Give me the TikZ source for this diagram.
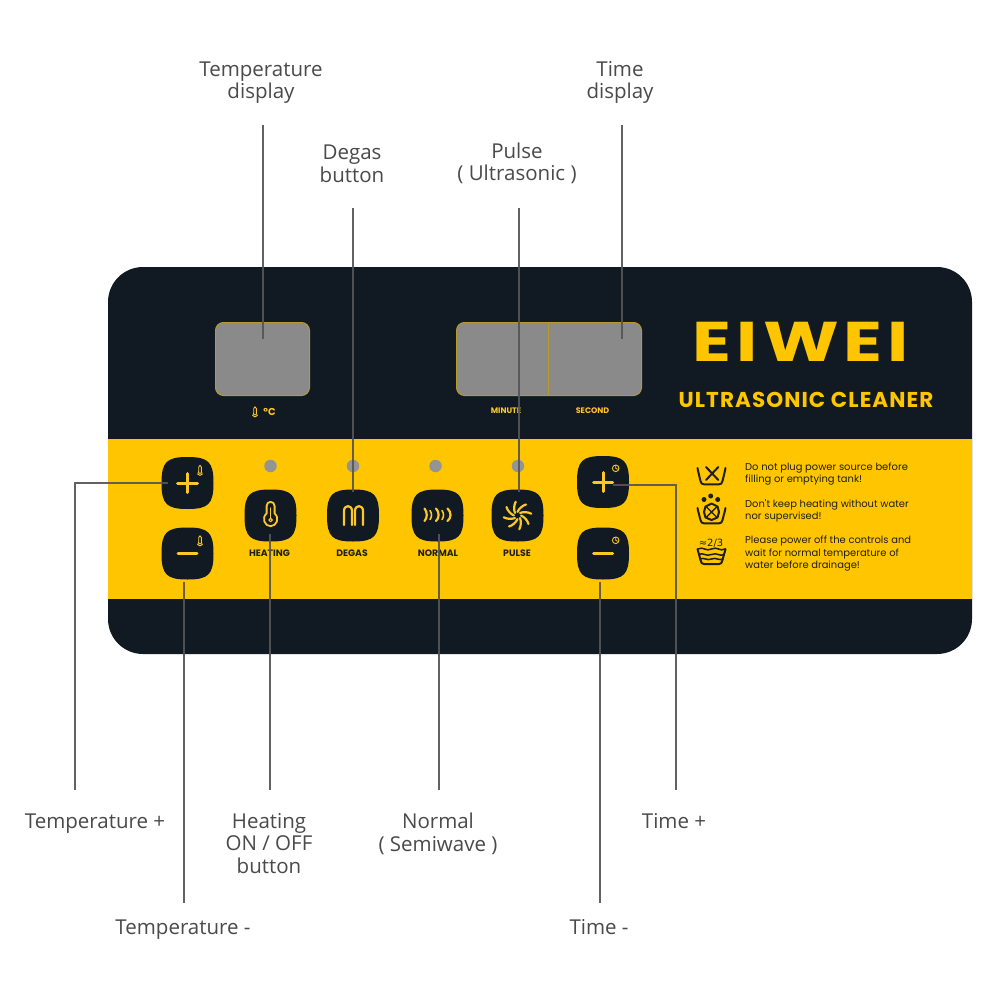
\documentclass[tikz,border=0pt]{standalone}
\usepackage{fontspec}
\setmainfont{Open Sans}
\newfontfamily\pop{Poppins}
\newfontfamily\dejav{DejaVu Sans}
\definecolor{panelDark}{HTML}{111A22}
\definecolor{panelYellow}{HTML}{FFC600}
\definecolor{iconYellow}{HTML}{FDC827}
\definecolor{screenGray}{HTML}{8A8A8A}
\definecolor{screenEdge}{HTML}{B59A2E}
\definecolor{dotGray}{HTML}{949494}
\definecolor{leadGray}{HTML}{555555}
\definecolor{labelGray}{HTML}{4A4A4A}
\definecolor{inkDark}{HTML}{1E1E1A}
\tikzset{
  x=1pt,y=-1pt,
  lead/.style={draw=leadGray,line width=2pt,opacity=.92},
  calloutlabel/.style={text=labelGray,align=center,inner sep=0pt,font=\fontsize{20.5}{22.6}\selectfont},
  screen/.style={fill=screenGray,draw=screenEdge,line width=1pt,rounded corners=8pt},
  dotlamp/.style={circle,fill=dotGray,minimum size=12.5pt,inner sep=0pt},
  btnhit/.style={minimum size=52pt,inner sep=0pt},
  icon/.style={draw=iconYellow,line width=1.9pt,line cap=round,line join=round},
  thinicon/.style={draw=iconYellow,line width=.9pt,line cap=round},
  tub/.style={draw=inkDark,line width=2pt,line cap=round,line join=round},
  btnlabel/.style={text=inkDark,inner sep=0pt,font=\pop\bfseries\fontsize{9.3}{10}\selectfont},
  warn/.style={text=inkDark,inner sep=0pt,anchor=west,align=left,font=\pop\fontsize{9.95}{12.4}\selectfont},
  panelcap/.style={text=iconYellow,inner sep=0pt,font=\pop\bfseries\fontsize{8}{9}\selectfont}
}
\newcommand\squirclebtn[3]{%
  \fill[panelDark,shift={(#2,#3)}] (-26,0) .. controls (-26,-21) and (-21,-26) .. (0,-26)
    .. controls (21,-26) and (26,-21) .. (26,0)
    .. controls (26,21) and (21,26) .. (0,26)
    .. controls (-21,26) and (-26,21) .. (-26,0) -- cycle;
  \node[btnhit] (#1) at (#2,#3) {};}
\newcommand\minitherm[2]{%
  \draw[thinicon,shift={(#1,#2)}] (-1.3,1.5) -- (-1.3,-3) .. controls (-1.3,-5.2) and (1.3,-5.2) .. (1.3,-3) -- (1.3,1.5)
    .. controls (3.6,3.2) and (1.9,5.4) .. (0,5.4) .. controls (-1.9,5.4) and (-3.6,3.2) .. (-1.3,1.5) -- cycle;
  \fill[iconYellow,shift={(#1,#2)}] (0,3.2) circle (1);}
\newcommand\miniclock[2]{%
  \draw[thinicon,shift={(#1,#2)}] (0,0) circle (3.3) (0,-2) -- (0,0) -- (1.6,.8);}
\begin{document}
\begin{tikzpicture}
\useasboundingbox (0,0) rectangle (1000,1000);
\fill[white] (0,0) rectangle (1000,1000);
% panel
\fill[panelDark,rounded corners=35pt] (108,267) rectangle (972,654);
\fill[panelYellow] (108,439) rectangle (972,599);
% displays
\node[screen,minimum width=94pt,minimum height=73pt,inner sep=0pt] (tempscreen) at (262.5,359) {};
\node[screen,minimum width=185pt,minimum height=73pt,inner sep=0pt] (timescreen) at (549,359) {};
\draw[screenEdge,line width=.9pt] (548,322.5) -- (548,395.5);
% captions under displays
\minitherm{255}{411.5}
\node[panelcap,font=\pop\bfseries\fontsize{10}{11}\selectfont] (degc) at (269.5,412) {°C};
\node[panelcap] (minute) at (506,411) {MINUTE};
\node[panelcap] (second) at (592.5,411) {SECOND};
% brand
\node[inner sep=0pt,text=panelYellow,font=\pop\bfseries\fontsize{56}{60}\selectfont\addfontfeature{LetterSpace=7}] (brand) at (801,342) {\scalebox{1.285}[1]{EIWEI}};
\node[inner sep=0pt,text=panelYellow,font=\pop\bfseries\fontsize{21.5}{24}\selectfont\addfontfeature{LetterSpace=5}] (product) at (806,400) {ULTRASONIC CLEANER};
% lamps
\node[dotlamp] (lampa) at (270.5,466) {};
\node[dotlamp] (lampb) at (353,466) {};
\node[dotlamp] (lampc) at (435.5,466) {};
\node[dotlamp] (lampd) at (518,466) {};
% buttons
\squirclebtn{tplus}{187.5}{483}
\squirclebtn{tminus}{187.5}{553.5}
\squirclebtn{heat}{270.5}{515.5}
\squirclebtn{degas}{353}{515.5}
\squirclebtn{normal}{437.5}{515.5}
\squirclebtn{pulse}{517.5}{515.5}
\squirclebtn{tmplus}{603}{482}
\squirclebtn{tmminus}{603}{553.5}
% + and - glyphs
\draw[icon,line width=3pt] (177.5,483) -- (197.5,483) (187.5,473.5) -- (187.5,492.5);
\draw[icon,line width=3pt] (178,553.5) -- (197,553.5);
\draw[icon,line width=3pt] (593.5,482) -- (612.5,482) (603,472.5) -- (603,491.5);
\draw[icon,line width=3pt] (593.5,553.5) -- (612.5,553.5);
\minitherm{200}{470}
\minitherm{200}{540.5}
\miniclock{615.7}{468.3}
\miniclock{615.7}{540.3}
% heating icon
\draw[icon,line width=1.8pt] (266.6,513.5) -- (266.6,506) .. controls (266.6,500.5) and (274.6,500.5) .. (274.6,506) -- (274.6,513.5)
  .. controls (280,518) and (276.5,526.2) .. (270.6,526.2) .. controls (264.7,526.2) and (261.2,518) .. (266.6,513.5) -- cycle;
\draw[icon,line width=1.1pt] (270.6,508) -- (270.6,519);
\draw[icon,line width=1pt] (270.6,520) circle (1.8);
% degas icon
\draw[icon,line width=2.2pt] (344,525) -- (344,511) .. controls (344,504.5) and (352,504.5) .. (352,511) -- (352,525);
\draw[icon,line width=2.2pt] (355,525) -- (355,511) .. controls (355,504.5) and (363,504.5) .. (363,511) -- (363,525);
% normal icon
\draw[icon,line width=2.2pt] (424.5,508.5) .. controls (427.5,512) and (427.5,518) .. (424.5,521);
\draw[icon,line width=1.6pt] (430,510.5) .. controls (432,513) and (432,517) .. (430,519.5);
\draw[icon,line width=2.2pt] (436,508.5) .. controls (439.5,512) and (439.5,518) .. (436,521);
\draw[icon,line width=1.6pt] (442,510.5) .. controls (444,513) and (444,517) .. (442,519.5);
\draw[icon,line width=2.2pt] (447.5,508.5) .. controls (451.5,512) and (451.5,518) .. (447.5,521);
% pulse icon
\foreach \a in {0,45,...,315}{
  \draw[icon,line width=2.2pt,shift={(517.5,515.5)},rotate=\a] (0,-3.6) .. controls (1.5,-7) and (5,-10) .. (8.5,-11);
}
% button captions
\node[btnlabel] (heatcap) at (269.5,553.5) {HEATING};
\node[btnlabel] (degascap) at (352,553.5) {DEGAS};
\node[btnlabel] (normalcap) at (438,553.5) {NORMAL};
\node[btnlabel] (pulsecap) at (517,553.5) {PULSE};
% warnings
\node[warn] (warna) at (745,473.8) {Do not plug power source before\\filling or emptying tank!};
\node[warn] (warnb) at (745,510.8) {Don't keep heating without water\\nor supervised!};
\node[warn] (warnc) at (745,553.6) {Please power off the controls and\\wait for normal temperature of\\water before drainage!};
% tub icons
\draw[tub] (697.5,468) .. controls (698.5,473) and (699.5,477) .. (700.5,481) .. controls (701,483.5) and (702,484.3) .. (704,484.3) -- (719,484.3) .. controls (721,484.3) and (722,483.5) .. (722.5,481) .. controls (723.5,477) and (724.5,473) .. (725.5,468);
\draw[tub] (706,467) -- (718.3,480) (718.3,467) -- (706,480);
\draw[tub] (697.5,508) .. controls (698.5,513) and (699.5,516) .. (700.5,520) .. controls (701,522.5) and (702,523.3) .. (704,523.3) -- (719,523.3) .. controls (721,523.3) and (722,522.5) .. (722.5,520) .. controls (723.5,516) and (724.5,513) .. (725.5,508);
\draw[tub] (711.5,503.5) -- (717.5,506.5) -- (719,512) -- (717.5,517.5) -- (711.5,520) -- (705.5,517.5) -- (704,512) -- (705.5,506.5) -- cycle;
\draw[tub,line width=1.4pt] (706.5,507) -- (716.5,517) (716.5,507) -- (706.5,517);
\fill[inkDark] (704,499.5) circle (2.5) (710.7,496) circle (2.5) (717.7,499.5) circle (2.5);
\draw[tub] (697.5,549) .. controls (698.5,553) and (699.5,556) .. (700.5,560) .. controls (701,563) and (702,564) .. (704,564) -- (719,564) .. controls (721,564) and (722,563) .. (722.5,560) .. controls (723.5,556) and (724.5,553) .. (725.5,549);
\draw[tub,line width=1.5pt] (698,549) .. controls (703,546) and (706,552) .. (711.5,549) .. controls (717,546) and (720,552) .. (725,549);
\draw[tub,line width=1.5pt] (699,554.5) .. controls (703,552) and (706,557) .. (711.5,554.5) .. controls (717,552) and (720,557) .. (724,554.5);
\draw[tub,line width=1.5pt] (700,559) .. controls (704,557) and (707,561) .. (711.5,559) .. controls (716,557) and (719,561) .. (723,559);
\node[inner sep=0pt,text=inkDark,font=\dejav\fontsize{10}{11}\selectfont] (twothirds) at (711,543.5) {≈2/3};
% callout labels
\node[calloutlabel] (ltd) at (261,82.5) {Temperature\\display};
\node[calloutlabel] (lsd) at (620,82.5) {Time\\display};
\node[calloutlabel] (ldg) at (352,163.5) {Degas\\button};
\node[calloutlabel] (lpu) at (517,163.5) {Pulse\\( Ultrasonic )};
\node[calloutlabel] (ltp) at (95,824) {Temperature +};
\node[calloutlabel] (lht) at (269,843.5) {Heating\\ON / OFF\\button};
\node[calloutlabel] (lnm) at (438,834) {Normal\\( Semiwave )};
\node[calloutlabel] (lsp) at (674,821) {Time +};
\node[calloutlabel] (ltm) at (183,930) {Temperature -};
\node[calloutlabel] (lsm) at (599,927) {Time -};
% free ends of the leaders, next to the labels
\coordinate (etd) at (263,125);
\coordinate (esd) at (622,125);
\coordinate (edg) at (353,208);
\coordinate (epu) at (518.5,208);
\coordinate (etp) at (75,790);
\coordinate (eht) at (270,790);
\coordinate (enm) at (439,790);
\coordinate (esp) at (676,790);
\coordinate (etm) at (183.5,903);
\coordinate (esm) at (599.5,903);
% leaders
\draw[lead] (etd) -- ([yshift=20pt]etd |- tempscreen.center);
\draw[lead] (esd) -- ([yshift=20pt]esd |- timescreen.center);
\draw[lead] (edg) -- ([yshift=-3pt]edg |- degas.north);
\draw[lead] (epu) -- ([yshift=-3pt]epu |- pulse.north);
\draw[lead] (etp) |- ([xshift=-19.5pt]tplus.center);
\draw[lead] (eht) -- ([yshift=-18.5pt]eht |- heat.center);
\draw[lead] (enm) -- ([yshift=-18.5pt]enm |- normal.center);
\draw[lead] (esp) |- ([xshift=10pt,yshift=-2.5pt]tmplus.center);
\draw[lead] (etm) -- ([yshift=-2pt]etm |- tminus.south);
\draw[lead] (esm) -- ([yshift=-2pt]esm |- tmminus.south);
\end{tikzpicture}
\end{document}
